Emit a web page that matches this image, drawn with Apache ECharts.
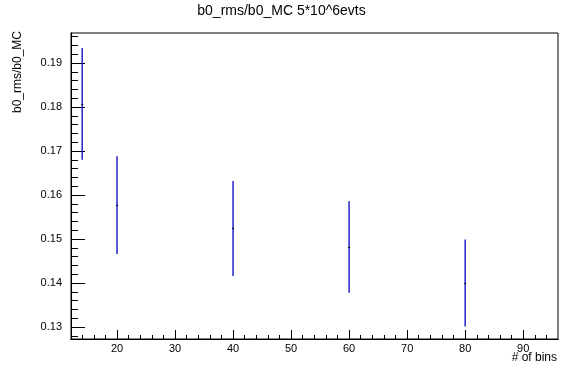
<!DOCTYPE html>
<html>
<head>
<meta charset="utf-8">
<script src="https://cdn.jsdelivr.net/npm/echarts@6/dist/echarts.min.js"></script>
<style>html,body{margin:0;padding:0;background:#fff;}#c{width:563px;height:378px;}</style>
</head>
<body>
<div id="c"></div>
<script>
// Data
var nBins = [14, 20, 40, 60, 80];
var ratio = [0.1807, 0.1577, 0.1524, 0.1482, 0.1400];
var errLow = [0.1680, 0.1466, 0.1416, 0.1378, 0.1301];
var errHigh = [0.1934, 0.1688, 0.1632, 0.1586, 0.1499];

var xMajorTicks = [20, 30, 40, 50, 60, 70, 80, 90];
var xMinorTicks = [14, 16, 18, 22, 24, 26, 28, 32, 34, 36, 38, 42, 44, 46, 48, 52, 54, 56, 58, 62, 64, 66, 68, 72, 74, 76, 78, 82, 84, 86, 88, 92, 94];
var yMajorTicks = [0.13, 0.14, 0.15, 0.16, 0.17, 0.18, 0.19];
var yMinorTicks = [0.128, 0.132, 0.134, 0.136, 0.138, 0.142, 0.144, 0.146, 0.148, 0.152, 0.154, 0.156, 0.158, 0.162, 0.164, 0.166, 0.168, 0.172, 0.174, 0.176, 0.178, 0.182, 0.184, 0.186, 0.188, 0.192, 0.194, 0.196];

var xRange = [12.07, 96.0];
var yRange = [0.12727, 0.19682];

var titleText = 'b0_rms/b0_MC 5*10^6evts';
var xTitle = '# of bins';
var yTitle = 'b0_rms/b0_MC';

var FONT = 'Liberation Sans, Arial, Helvetica, sans-serif';

var data = nBins.map(function (x, i) { return [x, ratio[i], errLow[i], errHigh[i]]; });

var chart = echarts.init(document.getElementById('c'), null, {renderer: 'canvas'});

function xAxisDef(ticks, len, labels) {
  return {
    type: 'value', min: xRange[0], max: xRange[1], gridIndex: 0, position: 'bottom',
    axisLine: {show: true, onZero: false, lineStyle: {color: '#000', width: 1}},
    splitLine: {show: false},
    axisTick: {show: true, inside: true, length: len, customValues: ticks, lineStyle: {color: '#000', width: 1}},
    axisLabel: labels ? {show: true, customValues: ticks, color: '#000', fontFamily: FONT, fontSize: 11, margin: 4} : {show: false}
  };
}
function yAxisDef(ticks, len, labels) {
  return {
    type: 'value', min: yRange[0], max: yRange[1], gridIndex: 0, position: 'left',
    axisLine: {show: true, onZero: false, lineStyle: {color: '#000', width: 1}},
    splitLine: {show: false},
    axisTick: {show: true, inside: true, length: len, customValues: ticks, lineStyle: {color: '#000', width: 1}},
    axisLabel: labels ? {show: true, customValues: ticks, color: '#000', fontFamily: FONT, fontSize: 11, margin: 9,
      formatter: function (v) { return v.toFixed(2); }} : {show: false}
  };
}

chart.setOption({
  animation: false,
  backgroundColor: '#fff',
  grid: {left: 71, right: 5, top: 33, bottom: 39, show: true, borderColor: '#000', borderWidth: 1, backgroundColor: 'transparent'},
  xAxis: [xAxisDef(xMajorTicks, 9, true), xAxisDef(xMinorTicks, 4, false)],
  yAxis: [yAxisDef(yMajorTicks, 14, true), yAxisDef(yMinorTicks, 7, false)],
  graphic: [
    {type: 'text', left: 'center', top: 4, style: {text: titleText, font: '14px ' + FONT, fill: '#000'}},
    {type: 'text', x: 557, y: 352, style: {text: xTitle, font: '12px ' + FONT, fill: '#000', align: 'right', verticalAlign: 'top'}},
    {type: 'text', x: 18, y: 31, rotation: Math.PI / 2, style: {text: yTitle, font: '12px ' + FONT, fill: '#000', align: 'right', verticalAlign: 'middle'}}
  ],
  series: [{
    type: 'custom',
    xAxisIndex: 0, yAxisIndex: 0,
    data: data,
    z: 10,
    renderItem: function (params, api) {
      var c = api.coord([api.value(0), api.value(1)]);
      var lo = api.coord([api.value(0), api.value(2)]);
      var hi = api.coord([api.value(0), api.value(3)]);
      var x = c[0];
      return {
        type: 'group',
        children: [
          {type: 'rect', shape: {x: x - 0.7, y: hi[1], width: 1.4, height: lo[1] - hi[1]}, style: {fill: '#1414c4'}},
          {type: 'rect', shape: {x: x - 1, y: Math.round(c[1]), width: 2, height: 1}, style: {fill: '#000'}}
        ]
      };
    }
  }]
});
</script>
</body>
</html>
